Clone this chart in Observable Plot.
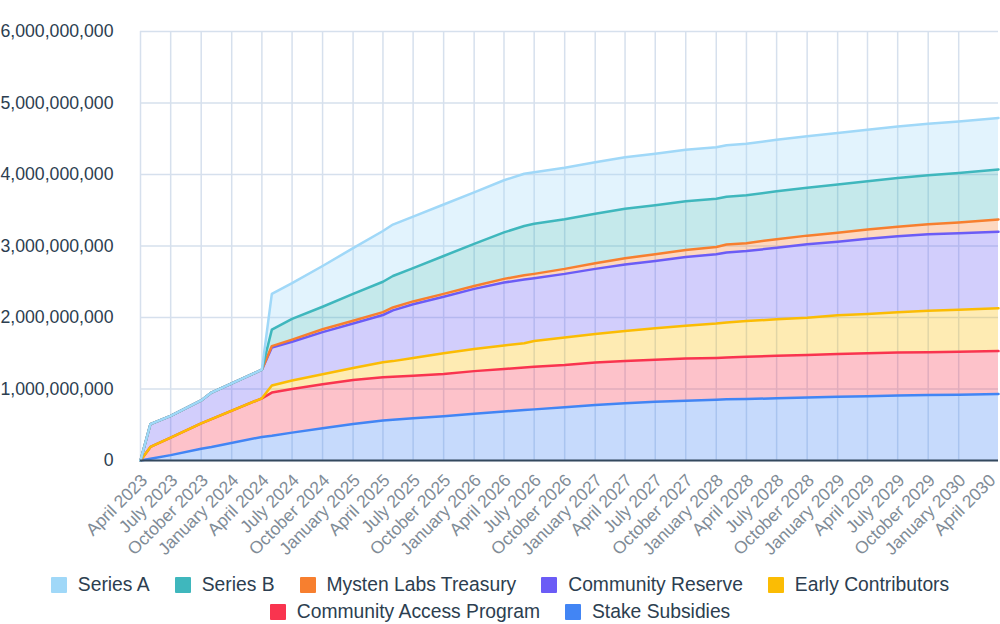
<!DOCTYPE html>
<html><head><meta charset="utf-8">
<script src="https://cdn.jsdelivr.net/npm/d3@7"></script>
<script src="https://cdn.jsdelivr.net/npm/@observablehq/plot@0.6"></script>
<style>
body{margin:0;background:#fff;font-family:"Liberation Sans",Arial,sans-serif;}
#legend{display:flex;flex-wrap:wrap;justify-content:center;max-width:940px;margin:0 auto;padding-top:1px}
.item{display:flex;align-items:center;margin:0 12.5px;height:27px;font-size:19.3px;color:#2c3e50;white-space:nowrap}
.sw{width:16px;height:16px;margin-right:11px;border-radius:1px}
</style></head><body>
<div id="chart"></div><div id="legend"></div>
<script>
// Series, bottom of stack to top
const seriesNames = ["Stake Subsidies","Community Access Program","Early Contributors","Community Reserve","Mysten Labs Treasury","Series B","Series A"];
const seriesColors = ["#4285f4","#f9344f","#fbbc04","#6b5cf6","#f77f2f","#3fb7bd","#a0d8f8"];
const legendOrder = ["Series A","Series B","Mysten Labs Treasury","Community Reserve","Early Contributors","Community Access Program","Stake Subsidies"];

const dates = ["2023-04","2023-05","2023-07","2023-10","2023-11",
  "2024-04","2024-05","2024-07","2024-10","2025-01",
  "2025-04","2025-05","2025-07","2025-10","2026-01",
  "2026-04","2026-06","2026-07","2026-10","2027-01",
  "2027-04","2027-07","2027-10","2028-01","2028-02",
  "2028-04","2028-07","2028-10","2029-01","2029-04",
  "2029-07","2029-10","2030-01","2030-05"];

// values in millions of tokens
const stakeSubsidies = [0,25,75,165,190, 330,345,390,450,510, 560,570,590,620,655, 685,705,715,745,775, 800,820,835,850,855, 860,870,880,890,900, 910,915,920,930];
const communityAccessProgram = [0,165,245,355,390, 540,605,610,615,615, 605,600,595,590,595, 595,595,595,590,595, 590,590,590,585,585, 590,595,595,600,600, 600,600,600,600];
const earlyContributors = [0,0,0,0,0, 0,100,120,140,170, 210,220,250,290,310, 330,340,360,385,400, 420,440,460,480,490, 500,510,520,540,550, 565,580,590,600];
const communityReserve = [0,320,305,320,370, 400,530,540,590,620, 660,710,750,790,840, 880,890,880,890,910, 930,940,960,970,980, 980,1000,1030,1030,1050, 1060,1070,1070,1070];
const mystenLabsTreasury = [0,0,0,0,0, 0,20,30,40,40, 40,40,40,40,40, 50,60,60,70,80, 90,95,100,100,110, 110,120,120,125,130, 135,140,150,170];
const seriesB = [0,0,0,0,0, 0,230,290,315,375, 425,440,465,530,590, 650,690,700,695,690, 690,685,680,675,670, 670,670,670,675,675, 680,685,690,700];
const seriesA = [0,0,0,0,0, 0,500,500,570,640, 710,720,720,720,720, 730,730,720,720,720, 720,720,720,720,720, 720,720,720,720,720, 720,720,720,720];

const yTicks = [0,1e9,2e9,3e9,4e9,5e9,6e9];
const tickLabels = ["April 2023","July 2023","October 2023","January 2024","April 2024","July 2024","October 2024","January 2025","April 2025","July 2025","October 2025","January 2026","April 2026","July 2026","October 2026","January 2027","April 2027","July 2027","October 2027","January 2028","April 2028","July 2028","October 2028","January 2029","April 2029","July 2029","October 2029","January 2030","April 2030"];

const parseMonth = d3.utcParse("%Y-%m");
const parseLabel = d3.utcParse("%B %Y");
const seriesValues = [stakeSubsidies, communityAccessProgram, earlyContributors, communityReserve, mystenLabsTreasury, seriesB, seriesA];
const table = [];
seriesNames.forEach((name, i) => seriesValues[i].forEach((v, j) => table.push({date: parseMonth(dates[j]), series: name, value: v * 1e6})));
const tickDates = tickLabels.map(parseLabel);
const gridDates = tickDates.slice(0, -1);
const gridColor = "#d6e0ed";

const plot = Plot.plot({
  width: 1000, height: 570,
  marginLeft: 140, marginRight: 2, marginTop: 31, marginBottom: 110,
  style: {fontFamily: '"Liberation Sans", Arial, sans-serif', background: "white"},
  x: {type: "utc", domain: [parseMonth(dates[0]), parseMonth(dates[dates.length - 1])]},
  y: {domain: [0, 6e9]},
  color: {domain: seriesNames, range: seriesColors},
  marks: [
    Plot.gridY(yTicks, {stroke: gridColor, strokeOpacity: 1, strokeWidth: 1.5}),
    Plot.gridX(gridDates, {stroke: gridColor, strokeOpacity: 1, strokeWidth: 1.5}),
    Plot.areaY(table, {x: "date", y: "value", z: "series", fill: "series", fillOpacity: 0.3, order: seriesNames}),
    Plot.lineY(table, Plot.stackY2({x: "date", y: "value", z: "series", stroke: "series", strokeWidth: 2.5, strokeLinejoin: "round", order: seriesNames})),
    Plot.ruleY([0], {stroke: "#34495e", strokeWidth: 2}),
    Plot.axisY(yTicks, {tickSize: 0, tickPadding: 27, tickFormat: d3.format(","), fontSize: 17.7, color: "#2c3e50", label: null}),
    Plot.axisX(tickDates, {tickSize: 0, tickRotate: -45, tickPadding: 13, dx: 4, dy: 4, tickFormat: d3.utcFormat("%B %Y"), fontSize: 17.4, color: "#808b96", label: null})
  ]
});
document.getElementById("chart").appendChild(plot);

const legend = document.getElementById("legend");
legendOrder.forEach(name => {
  const item = document.createElement("div");
  item.className = "item";
  const sw = document.createElement("span");
  sw.className = "sw";
  sw.style.background = seriesColors[seriesNames.indexOf(name)];
  item.appendChild(sw);
  item.appendChild(document.createTextNode(name));
  legend.appendChild(item);
});
</script>
</body></html>
